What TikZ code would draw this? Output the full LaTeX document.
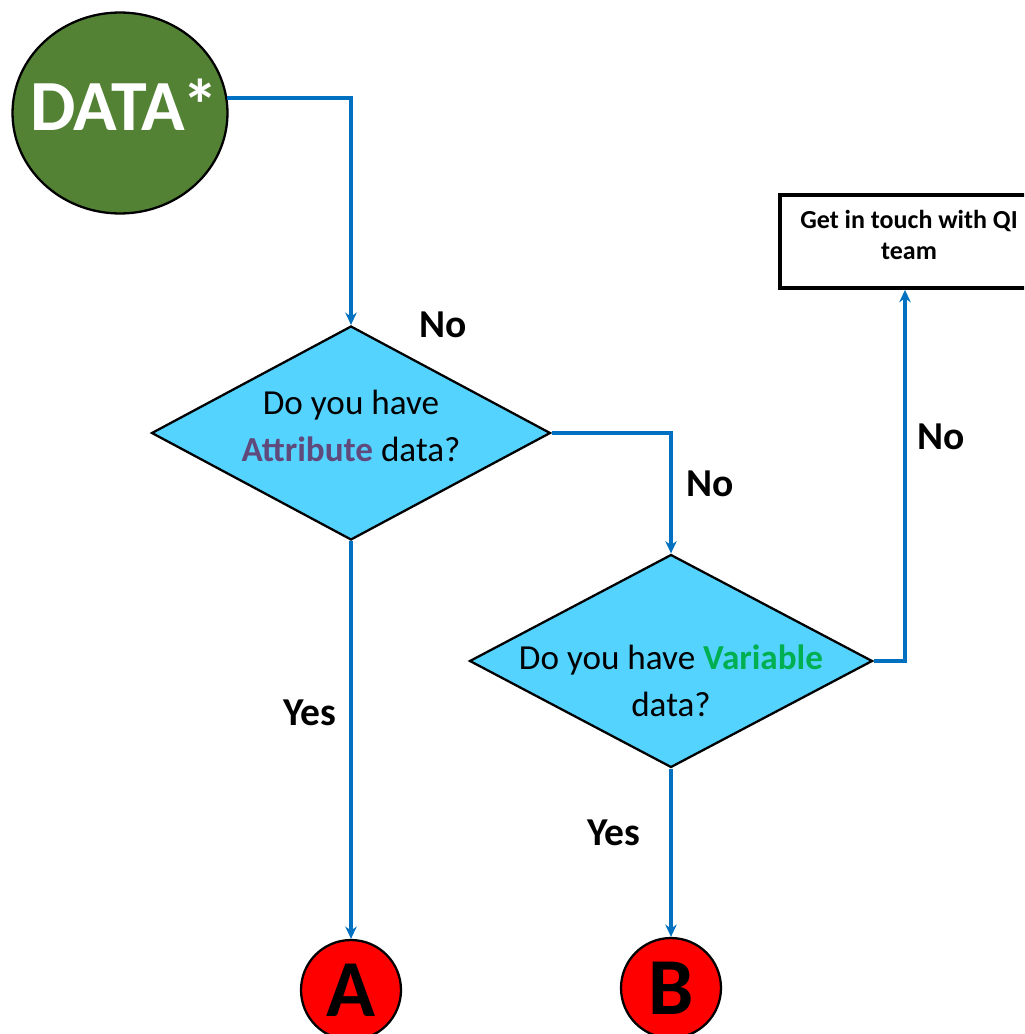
\documentclass[tikz,border=0pt]{standalone}
\usepackage{fontspec}
\setmainfont{Carlito}
\usetikzlibrary{positioning,shapes.geometric,arrows.meta}
\definecolor{QIblue}{HTML}{0070C0}
\definecolor{QIcyan}{HTML}{55D3FF}
\definecolor{QIgreen}{HTML}{548235}
\definecolor{QIpurple}{HTML}{604A7B}
\definecolor{QIvar}{HTML}{00B050}
\tikzset{
  flow/.style={QIblue, line width=2.3pt, -{Stealth[length=7pt,width=6.5pt]}},
  decision/.style={diamond, draw=black, line width=1.3pt, fill=QIcyan, inner sep=0pt},
  question/.style={align=center, font=\fontsize{20}{26.5}\selectfont},
  answer/.style={font=\bfseries\fontsize{22.5}{24}\selectfont},
  connector/.style={circle, draw=black, line width=1.3pt, fill=red, minimum size=2cm, inner sep=0pt, font=\bfseries\fontsize{46}{46}\selectfont}
}

\begin{document}
\begin{tikzpicture}[x=0.02cm,y=-0.02cm]
                \clip (0,0) rectangle (1024,1034);

                \node[ellipse, draw=black, line width=1.3pt, fill=QIgreen, minimum width=4.3cm, minimum height=4.02cm, inner sep=0pt] (data) at (120,113) {};
                \node[text=white, font=\bfseries\fontsize{41}{41}\selectfont] (datatext) at (124,105) {DATA\kern-2pt*};

                \node[decision, minimum width=7.98cm, minimum height=4.28cm] (attr) at (351,433) {};
                \node[question] (attrtext) at (351,426) {Do you have\\\textcolor{QIpurple}{\bfseries Attribute} data?};

                \node[decision, minimum width=8.06cm, minimum height=4.26cm] (var) at (671,661) {};
                \node[question] (vartext) at (671,681) {Do you have \textcolor{QIvar}{\bfseries Variable}\\data?};

                \node[draw=black, line width=2.2pt, fill=white, minimum width=5cm, minimum height=1.86cm] (qi) at (905,241.5) {};
                \node[align=center, font=\bfseries\fontsize{14.8}{18}\selectfont] (qitext) at (909,235) {Get in touch with QI\\team};

                \node[connector] (A) at (351,990) {A};
                \node[connector] (B) at (671,988) {B};

                \draw[flow] (data.8) -| (attr.north);
                \draw[flow] (attr.east) -| (var.north);
                \draw[flow] (var.east) -| (qi.south);
                \draw[flow] (attr.south) -- (A.north);
                \draw[flow] (var.south) -- (B.north);

                \node[answer] (no1)  at (443,325) {No};
                \node[answer] (no2)  at (710,484) {No};
                \node[answer] (no3)  at (941,437) {No};
                \node[answer] (yes1) at (310,713) {Yes};
                \node[answer] (yes2) at (614,833) {Yes};
\end{tikzpicture}
\end{document}
